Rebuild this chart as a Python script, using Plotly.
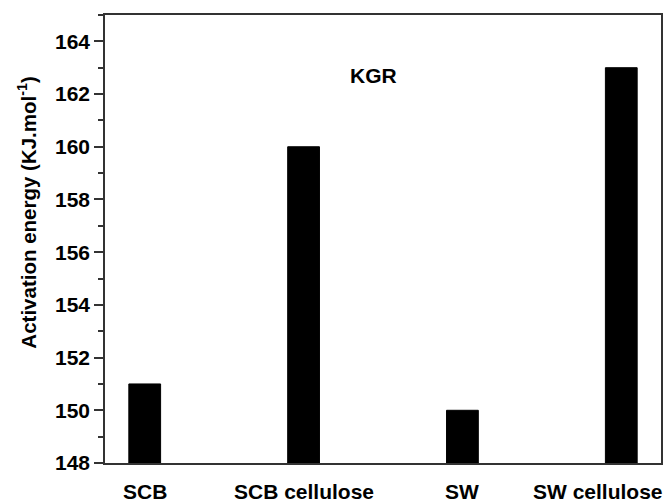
import plotly.graph_objects as go

categories = ["SCB", "SCB cellulose", "SW", "SW cellulose"]
values = [151, 160, 150, 163]
baseline = 148
y_ticks = [148, 150, 152, 154, 156, 158, 160, 162, 164]
y_title = "<b>Activation energy (KJ.mol<sup>-1</sup>)</b>"

fig = go.Figure()
fig.add_trace(go.Bar(
    x=list(range(len(categories))),
    y=[v - baseline for v in values],
    base=baseline,
    width=0.2,
    marker=dict(color="black", line=dict(color="black", width=1)),
    hoverinfo="skip",
))

annotations = [
    dict(text="<b>KGR</b>", x=1.44, y=162.7, xref="x", yref="y",
         showarrow=False, font=dict(size=21, color="black")),
    dict(text=y_title, textangle=-90, x=0, xref="paper", xanchor="center", xshift=-78,
         y=157.5, yref="y", yanchor="middle",
         showarrow=False, font=dict(size=20.5, color="black")),
]
for i, c in enumerate(categories):
    last = i == len(categories) - 1
    annotations.append(dict(
        text="<b>%s</b>" % c,
        x=3.25 if last else i, xref="x",
        y=0, yref="paper", yanchor="middle", yshift=-28,
        xanchor="right" if last else "center", xshift=4 if last else 0,
        showarrow=False, font=dict(size=21, color="black"),
    ))

fig.update_layout(
    width=667, height=500,
    margin=dict(l=105, r=6, t=15, b=37, autoexpand=False),
    paper_bgcolor="white", plot_bgcolor="white",
    showlegend=False,
    font=dict(family="Arial, Liberation Sans, sans-serif", color="black"),
    annotations=annotations,
)
fig.update_xaxes(
    range=[-0.25, 3.25],
    showticklabels=False,
    ticks="", showline=True, linecolor="#333", linewidth=1.5, mirror=True,
    showgrid=False, zeroline=False,
)
fig.update_yaxes(
    range=[148, 165],
    tickmode="array", tickvals=y_ticks,
    ticktext=["<b>%d</b>" % t for t in y_ticks],
    tickfont=dict(size=21),
    ticks="outside", ticklen=9, tickwidth=1.5, tickcolor="#333",
    minor=dict(ticks="outside", ticklen=5, tickwidth=1.5, tickcolor="#333", dtick=1, showgrid=False),
    showline=True, linecolor="#333", linewidth=1.5, mirror=True,
    showgrid=False, zeroline=False,
)

fig.write_html("out.html", config={"displayModeBar": False},
               post_script="document.body.style.margin='0';document.body.style.overflow='hidden';")
